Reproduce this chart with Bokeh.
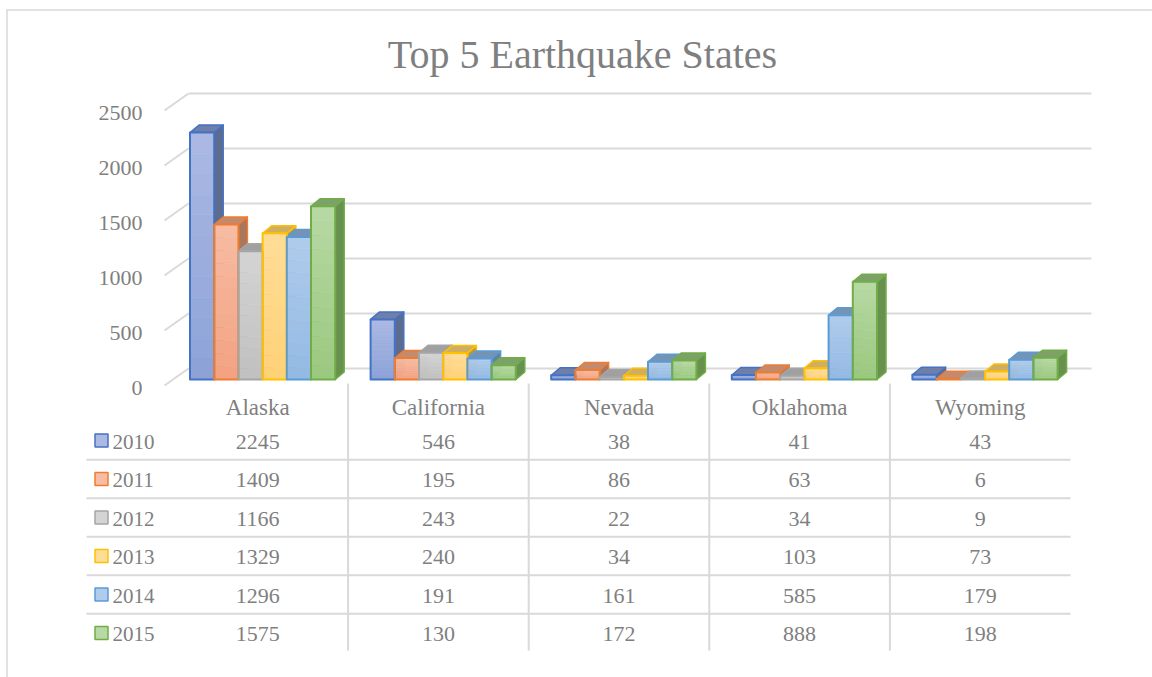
from bokeh.plotting import figure
from bokeh.models import Range1d
from bokeh.core.properties import value
from bokeh.embed import file_html
from bokeh.resources import INLINE

# ---- data -------------------------------------------------------------
states = ["Alaska", "California", "Nevada", "Oklahoma", "Wyoming"]
years = ["2010", "2011", "2012", "2013", "2014", "2015"]
quakes_2010 = [2245, 546, 38, 41, 43]
quakes_2011 = [1409, 195, 86, 63, 6]
quakes_2012 = [1166, 243, 22, 34, 9]
quakes_2013 = [1329, 240, 34, 103, 73]
quakes_2014 = [1296, 191, 161, 585, 179]
quakes_2015 = [1575, 130, 172, 888, 198]
y_ticks = [0, 500, 1000, 1500, 2000, 2500]
title_text = "Top 5 Earthquake States"

series = [quakes_2010, quakes_2011, quakes_2012, quakes_2013, quakes_2014, quakes_2015]

# ---- styling ----------------------------------------------------------
edge = ["#4472C4", "#ED7D31", "#A5A5A5", "#FFC000", "#5B9BD5", "#70AD47"]
face_light = ["#ABB9E3", "#F7BCA3", "#D4D4D4", "#FFDD97", "#AFCCEC", "#B7D9A3"]
face_dark = ["#8CA2D8", "#F3A281", "#C0C0C0", "#FFD177", "#93B9E3", "#9AC87F"]
top_fill = ["#6F7FA8", "#C48A6E", "#A0A0A0", "#CFAE62", "#7593B4", "#7DA168"]
side_fill = ["#5D6B8F", "#AA765C", "#8B8B8B", "#B2964F", "#63819F", "#68914F"]
GRID = "#D9D9D9"
TEXT = "#7F7F7F"
FONT = value("Liberation Serif")

W, H = 1152, 677
X0, COL = 167.0, 180.6      # pixel of category edge 0, pixels per category
Y0, K = 385.0, 0.11          # pixel of value 0 on the front plane, pixels per unit


def sx(px):
    return (px - X0) / COL


def sy(py):
    return (Y0 - py) / K


def dxp(px):
    return px / COL


def dyp(px):
    return px / K


p = figure(width=W, height=H, x_range=Range1d(sx(0), sx(W)),
           y_range=Range1d(sy(H), sy(0)), output_backend="svg",
           toolbar_location=None, min_border=0, x_axis_type=None,
           y_axis_type=None, outline_line_color=None,
           background_fill_color="white", border_fill_color="white")

# chart border (left and top edges)
p.segment(x0=[sx(6.5), sx(6)], y0=[sy(9), sy(9.5)],
          x1=[sx(6.5), sx(W)], y1=[sy(H), sy(9.5)],
          line_color=GRID, line_width=1.5)

# ---- back wall and side wall gridlines ----------------------------------
wall_dx, wall_dy = dxp(24), dyp(17)
wall_front = sx(164)
wall_back_end = sx(1091)
p.segment(x0=[wall_front] * len(y_ticks), y0=y_ticks,
          x1=[wall_front + wall_dx] * len(y_ticks),
          y1=[v + wall_dy for v in y_ticks], line_color=GRID, line_width=2)
p.segment(x0=[wall_front + wall_dx] * len(y_ticks),
          y0=[v + wall_dy for v in y_ticks],
          x1=[wall_back_end] * len(y_ticks),
          y1=[v + wall_dy for v in y_ticks], line_color=GRID, line_width=2)

# value labels on the axis
p.text(x=[sx(142)] * len(y_ticks), y=[v - dyp(2) for v in y_ticks],
       text=[str(v) for v in y_ticks], text_align="right",
       text_baseline="alphabetic", text_font=FONT, text_font_size="22px",
       text_color=TEXT)

# ---- 3-D columns -------------------------------------------------------
bar_w = dxp(24.2)
group_off = dxp(22.5)
base = dyp(6)
bdx, bdy = dxp(9), dyp(7.5)
NB = 12


def mix(c1, c2, t):
    a = [int(c1[k:k + 2], 16) for k in (1, 3, 5)]
    b = [int(c2[k:k + 2], 16) for k in (1, 3, 5)]
    return "#%02x%02x%02x" % tuple(round(a[k] + (b[k] - a[k]) * t) for k in range(3))


side_xs, side_ys, side_fc, side_lc = [], [], [], []
top_xs, top_ys, top_fc, top_lc = [], [], [], []
band_l, band_r, band_t, band_b, band_c = [], [], [], [], []
fr_l, fr_r, fr_t, fr_b, fr_c = [], [], [], [], []

for i in range(len(states)):
    for j in range(len(years)):
        v = series[j][i]
        xl = i + group_off + j * bar_w
        xr = xl + bar_w
        yb, yt = base, base + v
        side_xs.append([xr, xr + bdx, xr + bdx, xr])
        side_ys.append([yb, yb + bdy, yt + bdy, yt])
        side_fc.append(side_fill[j])
        side_lc.append(edge[j])
        top_xs.append([xl, xr, xr + bdx, xl + bdx])
        top_ys.append([yt, yt, yt + bdy, yt + bdy])
        top_fc.append(top_fill[j])
        top_lc.append(edge[j])
        for k in range(NB):
            band_l.append(xl)
            band_r.append(xr)
            band_t.append(yt - v * k / NB)
            band_b.append(yt - v * (k + 1) / NB)
            band_c.append(mix(face_light[j], face_dark[j], (k + 0.5) / NB))
        fr_l.append(xl)
        fr_r.append(xr)
        fr_t.append(yt)
        fr_b.append(yb)
        fr_c.append(edge[j])

p.patches(xs=side_xs, ys=side_ys, fill_color=side_fc, line_color=side_lc,
          line_width=1.5, line_join="round")
p.patches(xs=top_xs, ys=top_ys, fill_color=top_fc, line_color=top_lc,
          line_width=1.5, line_join="round")
p.quad(left=band_l, right=band_r, top=band_t, bottom=band_b,
       fill_color=band_c, line_color=band_c, line_width=0.6)
p.quad(left=fr_l, right=fr_r, top=fr_t, bottom=fr_b, fill_alpha=0,
       line_color=fr_c, line_width=2, line_join="round")

# ---- data table --------------------------------------------------------
row_step = 38.5
row_centers = [440 + row_step * r for r in range(len(years))]
table_left, table_right = sx(86), float(len(states))

# header: category names
p.text(x=[i + 0.5 for i in range(len(states))], y=[sy(407)] * len(states),
       text=states, text_align="center", text_baseline="alphabetic",
       text_font=FONT, text_font_size="23px", text_color=TEXT)

# horizontal rules between rows
rule_y = [sy((row_centers[r] + row_centers[r + 1]) / 2) for r in range(len(years) - 1)]
p.segment(x0=[table_left] * len(rule_y), y0=rule_y,
          x1=[table_right] * len(rule_y), y1=rule_y,
          line_color=GRID, line_width=2)

# vertical rules between categories
col_edges = list(range(1, len(states)))
p.segment(x0=col_edges, y0=[sy(383)] * len(col_edges),
          x1=col_edges, y1=[sy(650)] * len(col_edges),
          line_color=GRID, line_width=2)

# legend keys and year labels
p.rect(x=[sx(101)] * len(years), y=[sy(c) for c in row_centers],
       width=13, height=13, width_units="screen", height_units="screen",
       fill_color=face_light, line_color=edge, line_width=1.5)
p.text(x=[sx(112)] * len(years), y=[sy(c + 1) for c in row_centers],
       text=years, text_align="left", text_baseline="alphabetic",
       text_font=FONT, text_font_size="21px", text_color=TEXT)

# cell values
cell_x, cell_y, cell_t = [], [], []
for j in range(len(years)):
    for i in range(len(states)):
        cell_x.append(i + 0.5)
        cell_y.append(sy(row_centers[j] + 1))
        cell_t.append(str(series[j][i]))
p.text(x=cell_x, y=cell_y, text=cell_t, text_align="center",
       text_baseline="alphabetic", text_font=FONT, text_font_size="22px",
       text_color=TEXT)

# chart title
p.text(x=[sx(582)], y=[sy(54)], text=[title_text], text_align="center",
       text_baseline="alphabetic", text_font=FONT, text_font_size="40px",
       text_color=TEXT)

open("out.html", "w").write(file_html(p, INLINE))
